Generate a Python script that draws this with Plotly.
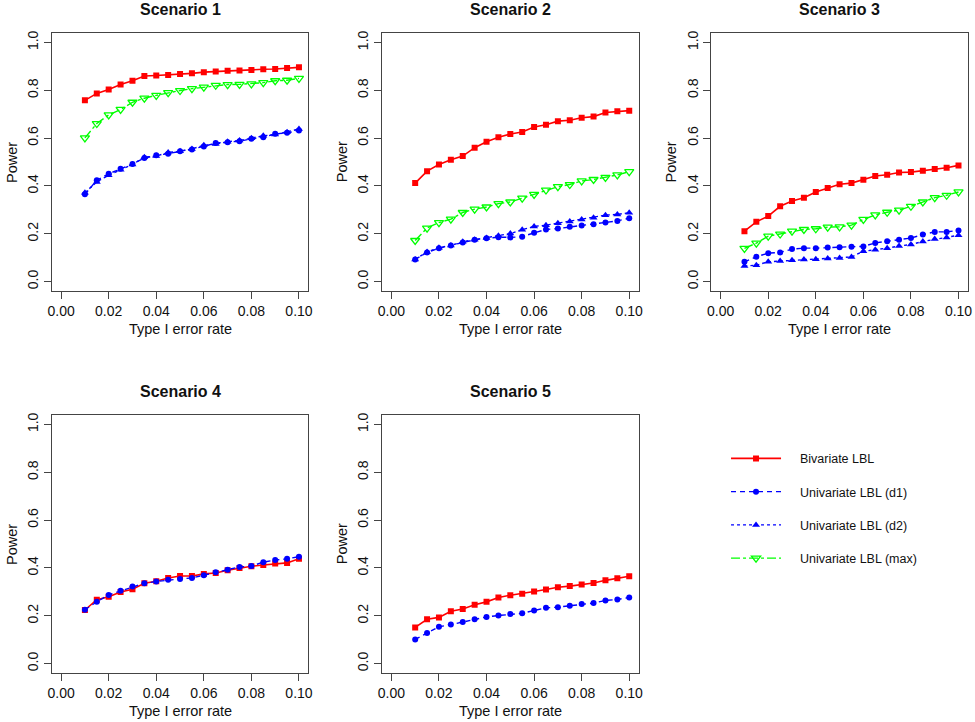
import plotly.graph_objects as go

# ---------------- data ----------------
alpha = [0.010, 0.015, 0.020, 0.025, 0.030, 0.035, 0.040, 0.045, 0.050, 0.055,
         0.060, 0.065, 0.070, 0.075, 0.080, 0.085, 0.090, 0.095, 0.100]

scenario_names = ["Scenario 1", "Scenario 2", "Scenario 3", "Scenario 4", "Scenario 5"]
series_names = ["Bivariate LBL", "Univariate LBL (d1)", "Univariate LBL (d2)", "Univariate LBL (max)"]

s1_biv = [0.758, 0.787, 0.803, 0.824, 0.840, 0.860, 0.862, 0.864, 0.868, 0.871,
          0.876, 0.879, 0.882, 0.883, 0.885, 0.888, 0.889, 0.893, 0.896]
s1_d1 = [0.365, 0.424, 0.451, 0.472, 0.492, 0.517, 0.528, 0.535, 0.545, 0.553,
         0.565, 0.580, 0.583, 0.587, 0.597, 0.604, 0.618, 0.622, 0.632]
s1_d2 = [0.372, 0.417, 0.445, 0.468, 0.490, 0.520, 0.525, 0.540, 0.545, 0.555,
         0.570, 0.575, 0.585, 0.590, 0.600, 0.610, 0.615, 0.625, 0.638]
s1_max = [0.601, 0.661, 0.697, 0.720, 0.750, 0.767, 0.779, 0.790, 0.799, 0.807,
          0.813, 0.821, 0.824, 0.825, 0.827, 0.832, 0.840, 0.842, 0.850]

s2_biv = [0.412, 0.462, 0.490, 0.510, 0.525, 0.560, 0.585, 0.604, 0.617, 0.626,
          0.647, 0.656, 0.671, 0.675, 0.685, 0.690, 0.707, 0.712, 0.715]
s2_d1 = [0.093, 0.122, 0.140, 0.151, 0.164, 0.175, 0.181, 0.186, 0.185, 0.188,
         0.204, 0.218, 0.222, 0.229, 0.235, 0.240, 0.247, 0.254, 0.265]
s2_d2 = [0.093, 0.124, 0.142, 0.151, 0.167, 0.175, 0.182, 0.192, 0.201, 0.217,
         0.231, 0.236, 0.244, 0.251, 0.260, 0.267, 0.278, 0.281, 0.288]
s2_max = [0.172, 0.224, 0.247, 0.261, 0.289, 0.303, 0.312, 0.326, 0.333, 0.349,
          0.365, 0.383, 0.397, 0.406, 0.421, 0.427, 0.436, 0.446, 0.460]

s3_biv = [0.211, 0.250, 0.274, 0.315, 0.337, 0.351, 0.375, 0.392, 0.407, 0.412,
          0.426, 0.442, 0.447, 0.456, 0.458, 0.464, 0.471, 0.476, 0.486]
s3_d1 = [0.083, 0.104, 0.119, 0.122, 0.136, 0.140, 0.140, 0.143, 0.144, 0.146,
         0.147, 0.162, 0.169, 0.175, 0.182, 0.197, 0.208, 0.208, 0.214]
s3_d2 = [0.065, 0.069, 0.083, 0.086, 0.089, 0.092, 0.094, 0.097, 0.099, 0.103,
         0.127, 0.133, 0.140, 0.149, 0.155, 0.168, 0.178, 0.185, 0.194]
s3_max = [0.139, 0.161, 0.190, 0.199, 0.211, 0.218, 0.221, 0.228, 0.229, 0.236,
          0.260, 0.279, 0.290, 0.299, 0.315, 0.333, 0.351, 0.361, 0.375]

s4_biv = [0.224, 0.267, 0.279, 0.299, 0.311, 0.336, 0.344, 0.358, 0.366, 0.366,
          0.375, 0.379, 0.390, 0.400, 0.407, 0.412, 0.418, 0.421, 0.438]
s4_d1 = [0.225, 0.258, 0.287, 0.304, 0.322, 0.336, 0.343, 0.350, 0.354, 0.358,
         0.369, 0.382, 0.392, 0.404, 0.408, 0.424, 0.433, 0.438, 0.447]

s5_biv = [0.151, 0.185, 0.193, 0.219, 0.228, 0.246, 0.258, 0.276, 0.286, 0.292,
          0.301, 0.310, 0.319, 0.324, 0.331, 0.337, 0.348, 0.357, 0.365]
s5_d1 = [0.101, 0.128, 0.154, 0.163, 0.174, 0.185, 0.195, 0.201, 0.207, 0.210,
         0.222, 0.233, 0.236, 0.242, 0.249, 0.253, 0.264, 0.268, 0.276]

x_tick_vals = [0.00, 0.02, 0.04, 0.06, 0.08, 0.10]
x_tick_text = ["0.00", "0.02", "0.04", "0.06", "0.08", "0.10"]
y_tick_vals = [0.0, 0.2, 0.4, 0.6, 0.8, 1.0]
y_tick_text = ["0.0", "0.2", "0.4", "0.6", "0.8", "1.0"]
x_title = "Type I error rate"
y_title = "Power"

# ---------------- styling ----------------
W, H = 975, 722
FONT = "Liberation Sans, Arial, Helvetica, sans-serif"
styles = {
    "Bivariate LBL": dict(color="#FF0000", dash="solid", symbol="square", size=6, open=False, width=1.6),
    "Univariate LBL (d1)": dict(color="#0000FF", dash="5px,4px", symbol="circle", size=6, open=False, width=1.4),
    "Univariate LBL (d2)": dict(color="#0000FF", dash="dot", symbol="triangle-up", size=7, open=False, width=1.4),
    "Univariate LBL (max)": dict(color="#00FF00", dash="dashdot", symbol="triangle-down-open", size=8, open=True, width=1.4),
}

panels = [
    ("Scenario 1", [s1_biv, s1_d1, s1_d2, s1_max]),
    ("Scenario 2", [s2_biv, s2_d1, s2_d2, s2_max]),
    ("Scenario 3", [s3_biv, s3_d1, s3_d2, s3_max]),
    ("Scenario 4", [s4_biv, s4_d1]),
    ("Scenario 5", [s5_biv, s5_d1]),
]

# pixel boxes (left, top) of each plotting region
box_w, box_h = 259, 259
lefts = [48, 381, 713, 48, 381]
tops = [31, 31, 31, 414, 414]

NBSP = "\u00a0"
fig = go.Figure()
annotations = []
layout_axes = {}

for i, (title, series) in enumerate(panels):
    k = i + 1
    xa = "x" if k == 1 else f"x{k}"
    ya = "y" if k == 1 else f"y{k}"
    for name, vals in zip(series_names, series):
        st = styles[name]
        marker = dict(symbol=st["symbol"], size=st["size"], color=st["color"])
        if st["open"]:
            marker["line"] = dict(color=st["color"], width=1.3)
        else:
            marker["line"] = dict(width=0)
        fig.add_trace(go.Scatter(
            x=alpha, y=vals, mode="lines+markers", name=NBSP * 4 + name,
            line=dict(color=st["color"], dash=st["dash"], width=st["width"]),
            marker=marker, xaxis=xa, yaxis=ya,
            legendgroup=name, showlegend=(k == 1),
        ))
    L, T = lefts[i], tops[i]
    xd = [L / W, (L + box_w) / W]
    yd = [1 - (T + box_h) / H, 1 - T / H]
    axis_common = dict(showline=True, mirror=True, linecolor="#444", linewidth=1,
                       ticks="outside", ticklen=7, tickcolor="#444", tickwidth=1,
                       showgrid=False, zeroline=False,
                       tickfont=dict(family=FONT, size=14, color="#111"))
    layout_axes["xaxis" if k == 1 else f"xaxis{k}"] = dict(
        domain=xd, range=[-0.004, 0.104], tickmode="array",
        tickvals=x_tick_vals, ticktext=x_tick_text, anchor=ya, **axis_common)
    layout_axes["yaxis" if k == 1 else f"yaxis{k}"] = dict(
        domain=yd, range=[-0.04, 1.04], tickmode="array",
        tickvals=y_tick_vals, ticktext=y_tick_text, tickangle=-90, anchor=xa, **axis_common)
    cx = (L + box_w / 2) / W
    annotations.append(dict(text=f"<b>{title}</b>", x=cx, y=1 - (T - 23) / H,
                            xref="paper", yref="paper", showarrow=False,
                            xanchor="center", yanchor="middle",
                            font=dict(family=FONT, size=16, color="#111")))
    annotations.append(dict(text=x_title, x=cx, y=1 - (T + box_h + 38) / H,
                            xref="paper", yref="paper", showarrow=False,
                            xanchor="center", yanchor="middle",
                            font=dict(family=FONT, size=14.5, color="#111")))
    annotations.append(dict(text=y_title, x=(L - 40) / W, y=1 - (T + box_h / 2) / H,
                            xref="paper", yref="paper", showarrow=False, textangle=-90,
                            xanchor="center", yanchor="middle",
                            font=dict(family=FONT, size=14.5, color="#111")))

fig.update_layout(
    width=W, height=H,
    margin=dict(l=0, r=0, t=0, b=0),
    paper_bgcolor="white", plot_bgcolor="white",
    annotations=annotations,
    legend=dict(x=728 / W, y=1 - 443 / H, xanchor="left", yanchor="top",
                font=dict(family=FONT, size=12.5, color="#111"),
                itemwidth=50, tracegroupgap=14, bgcolor="rgba(0,0,0,0)"),
    **layout_axes,
)

fig.write_html(
    "out.html",
    config={"displayModeBar": False},
    post_script="document.body.style.margin='0px';document.body.style.overflow='hidden';",
)
